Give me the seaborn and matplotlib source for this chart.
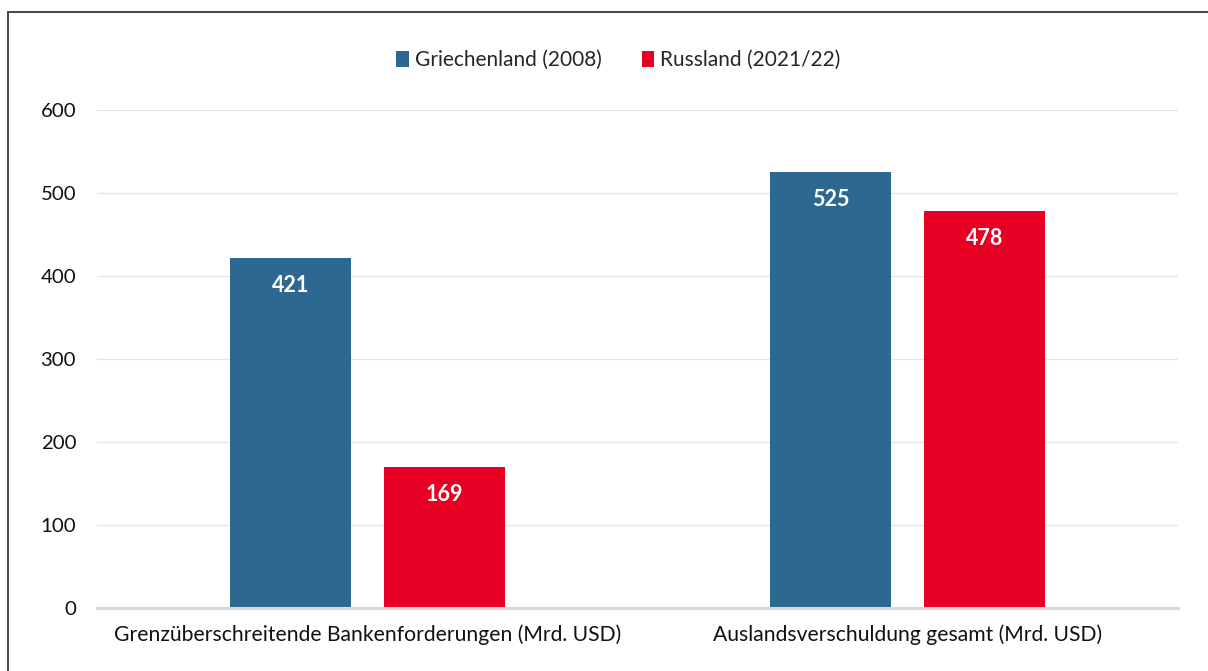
import pandas as pd
import matplotlib
matplotlib.use("Agg")
import matplotlib.pyplot as plt
from matplotlib.patches import Patch, Rectangle
import seaborn as sns

sns.set_style("white")
plt.rcParams['font.family'] = ['Lato', 'DejaVu Sans']

# data
kategorien = ['Grenzüberschreitende Bankenforderungen (Mrd. USD)',
              'Auslandsverschuldung gesamt (Mrd. USD)']
laender = ['Griechenland (2008)', 'Russland (2021/22)']
griechenland = [421, 525]
russland = [169, 478]
farben = ['#2D6891', '#E80024']

df = pd.DataFrame({
    'kategorie': kategorien * 2,
    'land': [laender[0]] * 2 + [laender[1]] * 2,
    'wert': griechenland + russland,
})

fig = plt.figure(figsize=(12.08, 6.71), dpi=100)
ax = fig.add_axes([0.0803, 0.0946, 0.8947, 0.7415])

sns.barplot(data=df, x='kategorie', y='wert', hue='land', palette=farben,
            width=0.57, gap=0.214, saturation=1, linewidth=0, legend=False, ax=ax)

# value labels inside the bars
for cont in ax.containers:
    for bar in cont:
        h = bar.get_height()
        ax.annotate(f'{h:.0f}', (bar.get_x() + bar.get_width() / 2, h),
                    xytext=(0, -19.5), textcoords='offset points',
                    ha='center', va='center', color='white',
                    fontsize=15.5, fontweight='bold')

ax.set_ylim(0, 600)
ax.set_yticks([0, 100, 200, 300, 400, 500, 600])
ax.yaxis.grid(True, color='#E4E4E4', linewidth=0.9)
ax.set_axisbelow(True)
ax.set_xlabel('')
ax.set_ylabel('')
for s in ['top', 'right', 'left']:
    ax.spines[s].set_visible(False)
ax.spines['bottom'].set_color('#D9D9D9')
ax.spines['bottom'].set_linewidth(2.2)
ax.tick_params(axis='y', length=0, pad=15, labelsize=14.7, colors='#111111')
ax.tick_params(axis='x', length=0, pad=12, labelsize=15.2, colors='#111111')

# legend at the top
handles = [Patch(facecolor=c, edgecolor='none') for c in farben]
fig.legend(handles, laender, loc='center', bbox_to_anchor=(0.512, 1 - 60 / 671),
           ncol=2, frameon=False, fontsize=15, handlelength=0.6,
           handleheight=0.8, handletextpad=0.3, columnspacing=1.9)

# frame around the chart (cut off right and below)
fig.patches.append(Rectangle((8 / 1208, -0.05), 1.2, 1 - 12 / 671 + 0.05,
                             transform=fig.transFigure, fill=False,
                             edgecolor='#444444', linewidth=1.4))

fig.savefig('out.png', dpi=100)
